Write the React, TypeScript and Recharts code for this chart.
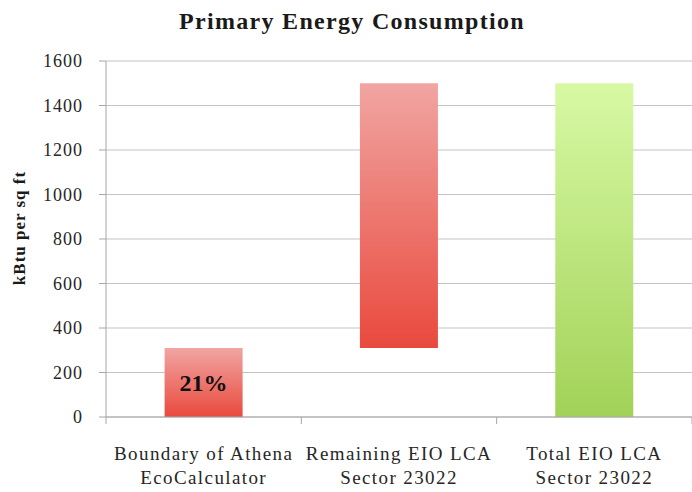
import React from "react";
import { BarChart, Bar, XAxis, YAxis, CartesianGrid, Cell, LabelList, Label } from "recharts";

const categoryLine1 = ["Boundary of Athena", "Remaining EIO LCA", "Total EIO LCA"];
const categoryLine2 = ["EcoCalculator", "Sector 23022", "Sector 23022"];
const baseValues = [0, 310, 0];
const barValues = [310, 1190, 1500];
const barLabels = ["21%", "", ""];
const barFills = ["url(#redGrad)", "url(#redGrad)", "url(#greenGrad)"];
const yTicks = [0, 200, 400, 600, 800, 1000, 1200, 1400, 1600];

const data = categoryLine1.map((c, i) => ({
  name: c,
  line2: categoryLine2[i],
  base: baseValues[i],
  value: barValues[i],
  label: barLabels[i],
}));

const FONT = '"Liberation Serif", "Times New Roman", serif';

const XTick = (props: any) => {
  const { x, y, payload, index } = props;
  const off = payload.offset || 0;
  const i = payload.index ?? index;
  return (
    <g>
      <line x1={x - off} x2={x - off} y1={y} y2={y + 7} stroke="#a6a6a6" strokeWidth={1} />
      {i === categoryLine1.length - 1 && (
        <line x1={x + off} x2={x + off} y1={y} y2={y + 7} stroke="#a6a6a6" strokeWidth={1} />
      )}
      <text x={x} y={y + 43} textAnchor="middle" fontFamily={FONT} fontSize={19} letterSpacing={1.4} fill="#262626">
        {categoryLine1[i]}
      </text>
      <text x={x} y={y + 67} textAnchor="middle" fontFamily={FONT} fontSize={19} letterSpacing={1.4} fill="#262626">
        {categoryLine2[i]}
      </text>
    </g>
  );
};

export default function App() {
  return (
    <div style={{ position: "absolute", left: 0, top: 0, width: 692, height: 492, background: "#fff" }}>
      <div
        style={{
          position: "absolute",
          top: 9,
          left: 6,
          width: 692,
          textAlign: "center",
          fontFamily: FONT,
          fontWeight: "bold",
          fontSize: 24,
          lineHeight: "24px",
          letterSpacing: 1.3,
          color: "#1a1a1a",
        }}
      >
        Primary Energy Consumption
      </div>
      <BarChart
        width={692}
        height={492}
        data={data}
        margin={{ top: 61, right: 0, bottom: 0, left: 0 }}
        barCategoryGap="30%"
      >
        <defs>
          <linearGradient id="redGrad" x1="0" y1="0" x2="0" y2="1">
            <stop offset="0%" stopColor="#f1a5a2" />
            <stop offset="100%" stopColor="#e9493d" />
          </linearGradient>
          <linearGradient id="greenGrad" x1="0" y1="0" x2="0" y2="1">
            <stop offset="0%" stopColor="#d7f9a4" />
            <stop offset="100%" stopColor="#a2d258" />
          </linearGradient>
        </defs>
        <CartesianGrid vertical={false} stroke="#c4c4c4" strokeWidth={1.2} />
        <XAxis
          dataKey="name"
          height={75}
          interval={0}
          tickLine={false}
          tickSize={0}
          tickMargin={0}
          axisLine={{ stroke: "#a6a6a6" }}
          tick={<XTick />}
        />
        <YAxis
          width={106}
          domain={[0, 1600]}
          ticks={yTicks}
          interval={0}
          tickSize={7}
          tickMargin={16}
          axisLine={{ stroke: "#a6a6a6" }}
          tickLine={{ stroke: "#a6a6a6" }}
          tick={{ fontFamily: FONT, fontSize: 18, fill: "#262626", letterSpacing: 1 }}
        >
          <Label
            content={(p: any) => {
              const vb = p.viewBox;
              const cx = vb.x + 25;
              const cy = vb.y + vb.height / 2 - 11;
              return (
                <text
                  x={cx}
                  y={cy}
                  transform={`rotate(-90 ${cx} ${cy})`}
                  textAnchor="middle"
                  fontFamily={FONT}
                  fontWeight="bold"
                  fontSize={17}
                  letterSpacing={1}
                  fill="#1a1a1a"
                >
                  kBtu per sq ft
                </text>
              );
            }}
          />
        </YAxis>
        <Bar dataKey="base" stackId="w" fill="transparent" isAnimationActive={false} />
        <Bar dataKey="value" stackId="w" isAnimationActive={false}>
          {data.map((d, i) => (
            <Cell key={i} fill={barFills[i]} />
          ))}
          <LabelList
            dataKey="label"
            position="center"
            fontFamily={FONT}
            fontWeight="bold"
            fontSize={24}
            fill="#111"
          />
        </Bar>
      </BarChart>
    </div>
  );
}
